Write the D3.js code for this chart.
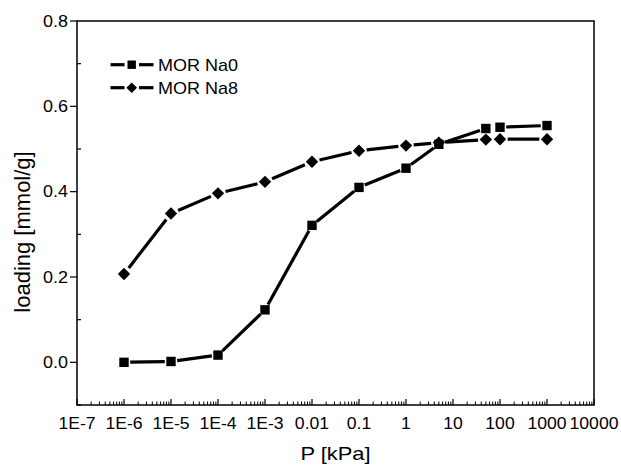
<!DOCTYPE html>
<html><head><meta charset="utf-8">
<script src="https://cdn.jsdelivr.net/npm/d3@7"></script>
<style>body{margin:0;background:#fff}svg{display:block;font-family:"Liberation Sans",Arial,sans-serif}</style>
</head><body><svg id="c" width="621" height="468"></svg>
<script>
const pressure = [1e-6, 1e-5, 1e-4, 1e-3, 0.01, 0.1, 1, 5, 50, 100, 1000];
const na0 = [0.000, 0.002, 0.017, 0.123, 0.321, 0.410, 0.455, 0.511, 0.548, 0.551, 0.555];
const na8 = [0.207, 0.349, 0.396, 0.423, 0.470, 0.496, 0.508, 0.515, 0.522, 0.523, 0.523];
const seriesNames = ["MOR Na0", "MOR Na8"];
const xTickLabels = ["1E-7","1E-6","1E-5","1E-4","1E-3","0.01","0.1","1","10","100","1000","10000"];
const yTicks = [0.0, 0.2, 0.4, 0.6, 0.8];

const svg = d3.select("#c");
const L = 77, R = 594, T = 21, B = 405;
const x = d3.scaleLog().domain([1e-7, 1e4]).range([L, R]);
const y = d3.scaleLinear().domain([-0.1, 0.8]).range([B, T]);

function stretch(sel, k) {
  sel.each(function () {
    const w = this.getComputedTextLength();
    d3.select(this).attr("textLength", w * k).attr("lengthAdjust", "spacingAndGlyphs");
  });
}

svg.append("rect").attr("x", L).attr("y", T).attr("width", R - L).attr("height", B - T)
  .attr("fill", "none").attr("stroke", "#000").attr("stroke-width", 1.5);

const decades = d3.range(-7, 5).map(e => Math.pow(10, e));
const xMinor = [];
decades.slice(0, -1).forEach(d => { for (let k = 2; k <= 9; k++) xMinor.push(d * k); });
const gx = svg.append("g");
gx.selectAll("line.maj").data(decades).join("line")
  .attr("x1", d => x(d)).attr("x2", d => x(d)).attr("y1", B).attr("y2", B - 6)
  .attr("stroke", "#000").attr("stroke-width", 1.2);
gx.selectAll("line.min").data(xMinor).join("line")
  .attr("x1", d => x(d)).attr("x2", d => x(d)).attr("y1", B).attr("y2", B - 3.5)
  .attr("stroke", "#000").attr("stroke-width", 1);
const xt = gx.selectAll("text").data(decades).join("text")
  .attr("x", d => x(d)).attr("y", B + 23.5).attr("text-anchor", "middle")
  .attr("font-size", 16).text((d, i) => xTickLabels[i]);
stretch(xt, 1.1);

const gy = svg.append("g");
gy.selectAll("line.maj").data(yTicks).join("line")
  .attr("x1", L - 7).attr("x2", L).attr("y1", d => y(d)).attr("y2", d => y(d))
  .attr("stroke", "#000").attr("stroke-width", 1.2);
const yMinor = [-0.1, 0.1, 0.3, 0.5, 0.7];
gy.selectAll("line.min").data(yMinor).join("line")
  .attr("x1", L).attr("x2", L + 4).attr("y1", d => y(d)).attr("y2", d => y(d))
  .attr("stroke", "#000").attr("stroke-width", 1.2);
const yt = gy.selectAll("text").data(yTicks).join("text")
  .attr("x", L - 9).attr("y", d => y(d)).attr("dy", "0.36em").attr("text-anchor", "end")
  .attr("font-size", 16).text(d => d.toFixed(1));
stretch(yt, 1.12);

const xtitle = svg.append("text").attr("x", (L + R) / 2).attr("y", 460).attr("text-anchor", "middle")
  .attr("font-size", 19).text("P [kPa]");
stretch(xtitle, 1.15);
svg.append("text").attr("transform", `translate(30,232) rotate(-90)`)
  .attr("text-anchor", "middle").attr("font-size", 22).text("loading [mmol/g]");

function shapePath(kind, r) {
  if (kind === "square") return `M${-r},${-r}H${r}V${r}H${-r}Z`;
  return `M0,${-r}L${r},0L0,${r}L${-r},0Z`;
}

function drawSeries(vals, kind, r) {
  const gap = r + 1.5;
  const pts = pressure.map((p, i) => [x(p), y(vals[i])]);
  const g = svg.append("g");
  for (let i = 0; i < pts.length - 1; i++) {
    const [x1, y1] = pts[i], [x2, y2] = pts[i + 1];
    const len = Math.hypot(x2 - x1, y2 - y1);
    if (len <= 2 * gap + 3) continue;
    const ux = (x2 - x1) / len, uy = (y2 - y1) / len;
    g.append("line").attr("x1", x1 + ux * gap).attr("y1", y1 + uy * gap)
      .attr("x2", x2 - ux * gap).attr("y2", y2 - uy * gap)
      .attr("stroke", "#000").attr("stroke-width", 3.2);
  }
  g.selectAll("path").data(pts).join("path")
    .attr("transform", d => `translate(${d[0]},${d[1]})`)
    .attr("d", shapePath(kind, r)).attr("fill", "#000");
}
drawSeries(na0, "square", 4.7);
drawSeries(na8, "diamond", 6.2);

const leg = svg.append("g");
[["square", 4.2], ["diamond", 5.3]].forEach((s, i) => {
  const ly = 64.7 + i * 23;
  leg.append("line").attr("x1", 110.5).attr("x2", 124.5).attr("y1", ly).attr("y2", ly).attr("stroke", "#000").attr("stroke-width", 3.2);
  leg.append("line").attr("x1", 139).attr("x2", 153.5).attr("y1", ly).attr("y2", ly).attr("stroke", "#000").attr("stroke-width", 3.2);
  leg.append("path").attr("transform", `translate(131.7,${ly})`).attr("d", shapePath(s[0], s[1])).attr("fill", "#000");
  const t = leg.append("text").attr("x", 158).attr("y", ly).attr("dy", "0.36em").attr("font-size", 17).text(seriesNames[i]);
  stretch(t, 1.06);
});
</script></body></html>
